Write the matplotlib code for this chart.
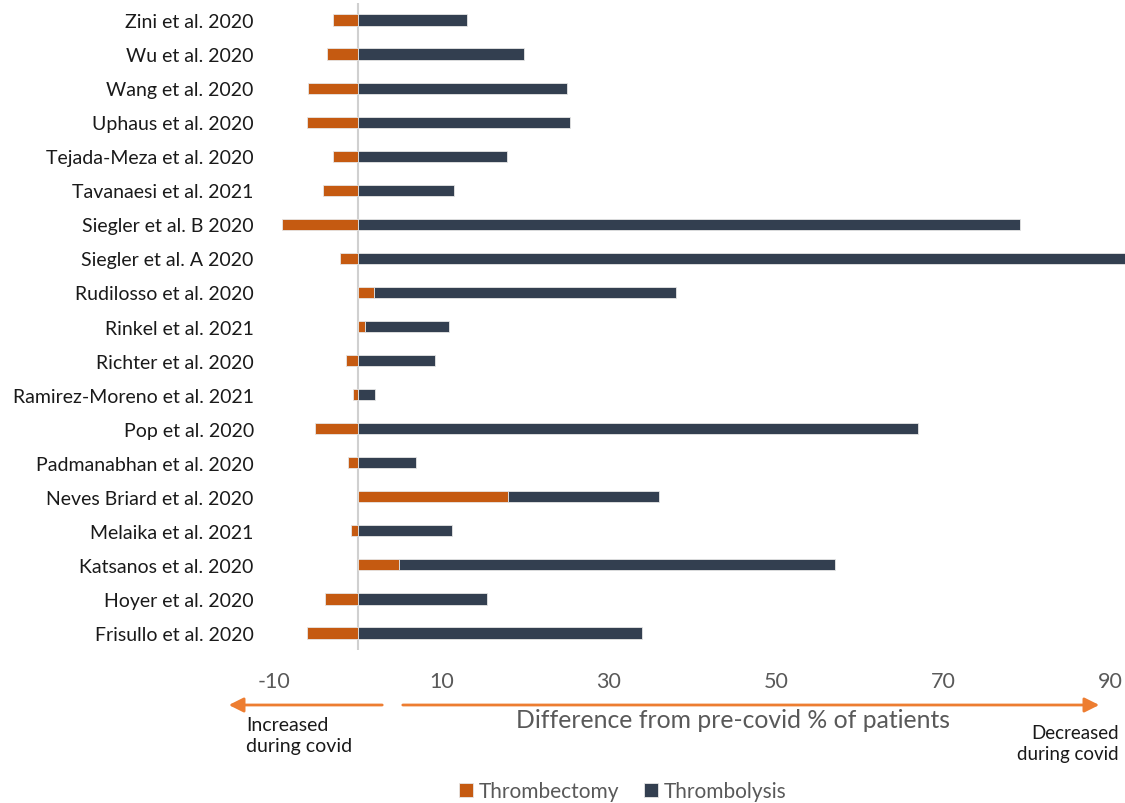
import numpy as np
import matplotlib
matplotlib.use("Agg")
import matplotlib.pyplot as plt
from matplotlib.patches import FancyArrowPatch

plt.rcParams["font.family"] = ["Lato", "DejaVu Sans"]

# studies, listed top to bottom
studies = ["Zini et al. 2020", "Wu et al. 2020", "Wang et al. 2020", "Uphaus et al. 2020",
           "Tejada-Meza et al. 2020", "Tavanaesi et al. 2021", "Siegler et al. B 2020",
           "Siegler et al. A 2020", "Rudilosso et al. 2020", "Rinkel et al. 2021",
           "Richter et al. 2020", "Ramirez-Moreno et al. 2021", "Pop et al. 2020",
           "Padmanabhan et al. 2020", "Neves Briard et al. 2020", "Melaika et al. 2021",
           "Katsanos et al. 2020", "Hoyer et al. 2020", "Frisullo et al. 2020"]
thrombectomy = [-3.0, -3.7, -5.9, -6.0, -2.9, -4.2, -9.1, -2.1, 2.0, 0.9,
                -1.4, -0.5, -5.1, -1.2, 18.0, -0.8, 4.9, -3.9, -6.0]
thrombolysis = [13.1, 19.9, 25.0, 25.4, 17.9, 11.5, 79.2, 93.0, 36.0, 10.0,
                9.3, 2.1, 67.0, 7.0, 18.0, 11.3, 52.2, 15.4, 34.0]
xticks = [-10, 10, 30, 50, 70, 90]

c_ect = "#C55A11"
c_lys = "#333F50"
c_arrow = "#ED7D31"
c_text = "#595959"

fig = plt.figure(figsize=(11.25, 8.04), dpi=100)
ax = fig.add_axes([274 / 1125, 153 / 804, 851 / 1125, 647 / 804])

y = np.arange(len(studies))
ect = np.array(thrombectomy)
lys = np.array(thrombolysis)
# stacked like a spreadsheet chart: positive pieces stack, negatives hang off zero
lys_left = np.where(ect > 0, ect, 0)

h = 0.33
ax.barh(y, ect, height=h, color=c_ect, edgecolor="#e6e6e6", linewidth=0.6, label="Thrombectomy")
ax.barh(y, lys, left=lys_left, height=h, color=c_lys, edgecolor="#e6e6e6", linewidth=0.6,
        label="Thrombolysis")
ax.axvline(0, color="#d0d0d0", lw=1.5, zorder=0)

ax.set_xlim(-10, 91.7)
ax.set_ylim(len(studies) - 0.5, -0.5)
ax.set_yticks(y)
ax.set_yticklabels(studies, fontsize=14, color="#1a1a1a")
ax.set_xticks(xticks)
ax.set_xticklabels([str(t) for t in xticks], fontsize=15.5, color=c_text)
ax.tick_params(axis="both", length=0)
ax.tick_params(axis="x", pad=15)
ax.tick_params(axis="y", pad=14.5)
for s in ax.spines.values():
    s.set_visible(False)

# direction arrows under the axis
ya = 1 - 706 / 804
for start, end in [(385, 226), (400, 1102)]:
    fig.add_artist(FancyArrowPatch((start / 1125, ya), (end / 1125, ya),
                                   transform=fig.transFigure, arrowstyle="-|>",
                                   mutation_scale=22, color=c_arrow, lw=2))

fig.text(246 / 1125, 1 - 736 / 804, "Increased\nduring covid", fontsize=14, color="#1a1a1a",
         ha="left", va="center", linespacing=1.3)
fig.text(1119 / 1125, 1 - 744 / 804, "Decreased\nduring covid", fontsize=13.5, color="#1a1a1a",
         ha="right", va="center", linespacing=1.3)
fig.text(733 / 1125, 1 - 721 / 804, "Difference from pre-covid % of patients", fontsize=17.8,
         color=c_text, ha="center", va="center")

fig.legend(loc="center", bbox_to_anchor=(623 / 1125, 1 - 792 / 804), ncol=2, frameon=False,
           fontsize=15, handlelength=0.65, handleheight=0.65, handletextpad=0.3,
           columnspacing=1.2, labelcolor=c_text)

fig.savefig("out.png", dpi=100)
